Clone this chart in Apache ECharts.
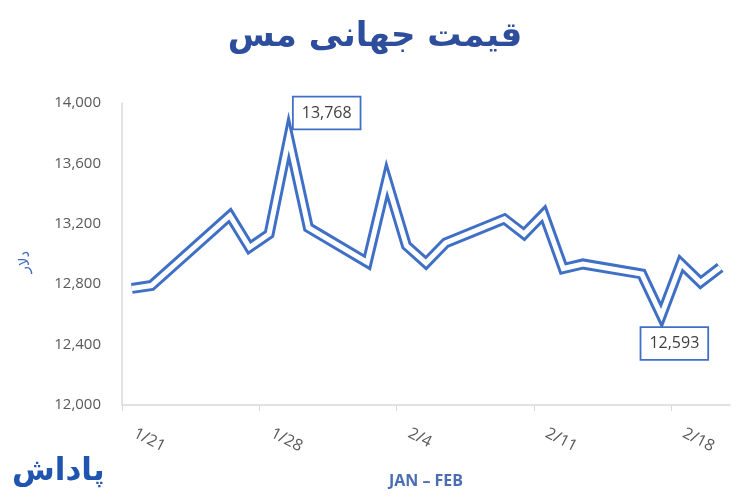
<!DOCTYPE html>
<html>
<head>
<meta charset="utf-8">
<title>قیمت جهانی مس</title>
<script src="https://cdn.jsdelivr.net/npm/echarts@6/dist/echarts.min.js"></script>
<style>
    html, body {margin: 0; padding: 0; background: #fff;}
    #main {width: 750px; height: 500px;}
</style>
</head>
<body>
<div id="main"></div>
<script>
// trading days (M/D) and price in dollars
let dates = ['1/21','1/22','1/26','1/27','1/28','1/29','1/30','2/2','2/3','2/4','2/5',
    '2/6','2/9','2/10','2/11','2/12','2/13','2/16','2/17','2/18','2/19','2/20'];
let prices = [12772, 12791, 13255, 13043, 13132, 13768, 13175, 12944, 13490, 13056, 12940,
    13073, 13232, 13132, 13265, 12904, 12934, 12868, 12593, 12937, 12811, 12911];
let weekTicks = ['1/21','1/28','2/4','2/11','2/18'];

let blue = '#4070C6';

function dayNum(str) { // M/D -> day of year
    let p = str.split('/');
    return (p[0] === '1' ? 0 : 31) + parseInt(p[1]);
}
function dayLabel(v) {
    return v <= 31 ? '1/' + v : '2/' + (v - 31);
}

let maxIdx = prices.indexOf(Math.max.apply(null, prices));
let minIdx = prices.indexOf(Math.min.apply(null, prices));

let boxLabel = {
    show: true,
    position: 'inside',
    backgroundColor: '#fff',
    borderColor: blue,
    borderWidth: 1.8,
    padding: [8, 8, 7, 8],
    color: '#404040',
    fontFamily: 'Open Sans',
    fontSize: 16,
    formatter: function (p) { return p.value[1].toLocaleString('en-US'); }
};

let lineData = [];
let topData = [];
for (let i = 0; i < dates.length; i++) {
    let pt = [dayNum(dates[i]) + 0.5, prices[i]];
    lineData.push(pt);
    if (i === maxIdx) {
        topData.push({value: pt, label: Object.assign({}, boxLabel, {offset: [38, -25]})});
    } else if (i === minIdx) {
        topData.push({value: pt, label: Object.assign({}, boxLabel, {offset: [13, 28]})});
    } else {
        topData.push(pt);
    }
}

let chart = echarts.init(document.getElementById('main'));
let option = {
    animation: false,
    title: {
        text: 'قیمت جهانی مس',
        left: 'center',
        top: 15,
        textStyle: {fontFamily: 'DejaVu Sans', fontSize: 34, fontWeight: 'bold', color: '#2D4E9C'}
    },
    grid: {left: 122, right: 20, top: 103, bottom: 95},
    xAxis: {
        type: 'value',
        min: dayNum(weekTicks[0]),
        max: 52,
        interval: 7,
        name: 'JAN – FEB',
        nameLocation: 'middle',
        nameGap: 68,
        nameTextStyle: {fontFamily: 'Open Sans', fontSize: 16, fontWeight: 'bold', color: '#4A6DB4'},
        axisLine: {show: true, lineStyle: {color: '#D9D9D9', width: 1.5}},
        axisTick: {show: true, length: 6, lineStyle: {color: '#D9D9D9'}},
        splitLine: {show: false},
        axisLabel: {
            rotate: -27,
            margin: 21,
            padding: [0, 0, 0, 14],
            showMaxLabel: false,
            color: '#595959',
            fontFamily: 'Open Sans',
            fontSize: 16,
            formatter: dayLabel
        }
    },
    yAxis: {
        type: 'value',
        min: 12000,
        max: 14000,
        interval: 400,
        name: 'دلار',
        nameLocation: 'middle',
        nameRotate: 90,
        nameGap: 89,
        nameTextStyle: {fontFamily: 'DejaVu Sans', fontSize: 15, color: '#3F6BC4', padding: [0, 16, 0, 0]},
        axisLine: {show: true, lineStyle: {color: '#D9D9D9', width: 1.5}},
        axisTick: {show: false},
        splitLine: {show: false},
        axisLabel: {
            margin: 21,
            color: '#595959',
            fontFamily: 'Open Sans',
            fontSize: 15,
            formatter: function (v) { return v.toLocaleString('en-US'); }
        }
    },
    series: [
        { // outer blue stroke
            type: 'line',
            data: lineData,
            showSymbol: false,
            lineStyle: {color: blue, width: 11, join: 'miter', miterLimit: 10},
            z: 2
        },
        { // white inner stroke -> double line look
            type: 'line',
            data: topData,
            symbol: 'circle',
            symbolSize: 0,
            showSymbol: true,
            itemStyle: {color: '#fff'},
            lineStyle: {color: '#fff', width: 5, join: 'miter', miterLimit: 10},
            label: {show: false},
            z: 3
        }
    ],
    graphic: [
        {
            type: 'text',
            left: 12,
            top: 456,
            style: {text: 'پاداش', font: 'bold 31px "DejaVu Sans"', fill: '#1F55B0'}
        }
    ]
};
chart.setOption(option);
</script>
</body>
</html>
